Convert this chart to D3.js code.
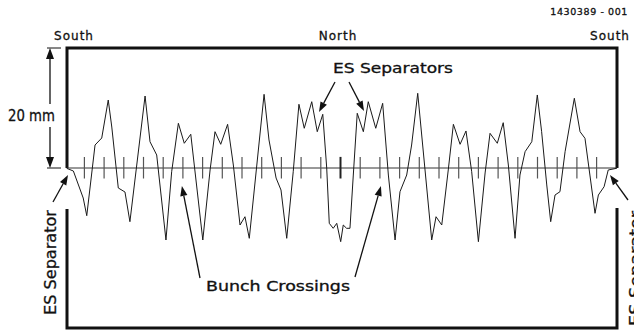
<!DOCTYPE html>
<html>
<head>
<meta charset="utf-8">
<script src="https://cdn.jsdelivr.net/npm/d3@7"></script>
<style>
  body { margin: 0; background: #fff; }
  svg { display: block; }
  text { font-family: "DejaVu Sans", sans-serif; fill: #111; stroke: #111; stroke-width: 0.3; }
</style>
</head>
<body>
<svg id="chart" width="634" height="333"></svg>
<script>
// position round the ring, in bunch-spacing units
const orbitPos = [
  0.10, 0.44, 0.94, 1.12, 1.54, 1.88, 2.21, 2.39, 2.72, 3.06,
  3.31, 4.08, 4.33, 4.67, 5.14, 5.43, 5.77, 6.07, 6.40, 7.01,
  7.38, 7.63, 7.92, 8.27, 8.56, 8.90, 9.15, 9.37, 10.12, 10.37,
  10.73, 10.98, 11.27, 11.60, 11.89, 12.16, 12.54, 12.82, 13.10, 13.30,
  13.43, 13.63, 13.81, 14.01, 14.14, 14.31, 14.48, 14.65, 14.85, 15.16,
  15.41, 15.79, 16.14, 16.43, 16.77, 17.02, 17.36, 17.61, 17.92, 18.63,
  18.85, 19.14, 19.47, 19.73, 20.07, 20.37, 20.66, 21.00, 21.34, 21.59,
  21.96, 22.26, 22.52, 22.86, 23.11, 23.37, 23.71, 23.99, 24.21, 24.47,
  24.67, 24.89, 25.14, 25.40, 25.87, 26.16, 26.41, 26.66, 26.92, 27.09,
  27.38, 27.59, 28.02
];
// beam offset, mm
const orbitOffset = [
  -0.05, -0.5, -5.0, -7.95, 3.83, 5.0, 11.33, 6.83, -3.33, -4.0,
  -8.95, 12.0, 4.38, 2.17, -12.0, -0.62, 7.45, 4.12, 5.62, -12.0,
  -0.33, 6.05, 3.95, 7.28, 0.5, -9.5, -8.12, -11.72, 12.28, 4.67,
  -1.67, -3.67, -11.72, -0.62, 10.62, 6.62, 11.05, 6.05, 8.95, 0,
  -9.22, -10.05, -9.22, -12.28, -9.5, -10.05, -10.05, -1.17, 9.12, 6.05,
  11.05, 6.62, 10.78, -1.17, -12.0, -3.95, -1.17, 3.83, 12.45, -12.0,
  -8.12, -9.5, -0.33, 7.28, 3.95, 6.17, -0.62, -12.28, -0.83, 5.78,
  4.12, 7.55, 0.5, -11.72, -1.17, 2.72, 4.38, 12.17, 6.05, -2.83,
  -8.95, -4.5, -3.95, 2.72, 11.62, 6.05, 4.95, -1.17, -7.55, -4.5,
  -3.12, -0.33, -0.05
];
// bunch crossing points
const crossings = [1, 2, 3, 4, 5, 6, 7, 8, 9, 10, 11, 12, 13, 14,
  15, 16, 17, 18, 19, 20, 21, 22, 23, 24, 25, 26, 27];
const sideLabels = ["South", "North", "South"];

const svg = d3.select("#chart");
const x = d3.scaleLinear().domain([0, 28]).range([64.7, 616.3]);
const y = d3.scaleLinear().domain([0, 20]).range([168, 48]);

const ink = "#111";

function arrow(x1, y1, x2, y2, len = 10, half = 3.6) {
  const a = Math.atan2(y2 - y1, x2 - x1);
  const bx = x2 - len * Math.cos(a), by = y2 - len * Math.sin(a);
  svg.append("line")
    .attr("x1", x1).attr("y1", y1).attr("x2", bx).attr("y2", by)
    .attr("stroke", ink).attr("stroke-width", 1.3);
  svg.append("path")
    .attr("d", `M${x2},${y2}L${bx + half * Math.sin(a)},${by - half * Math.cos(a)}L${bx - half * Math.sin(a)},${by + half * Math.cos(a)}Z`)
    .attr("fill", ink);
}

// frames
const left = 67, right = 617;
svg.append("path")
  .attr("d", `M${left},${y(0)}V${y(20)}H${right}V${y(0)}`)
  .attr("fill", "none").attr("stroke", ink).attr("stroke-width", 3);
svg.append("path")
  .attr("d", `M${left},209V328H${right}V208`)
  .attr("fill", "none").attr("stroke", ink).attr("stroke-width", 3);

// reference axis
svg.append("line")
  .attr("x1", left).attr("x2", right)
  .attr("y1", y(0)).attr("y2", y(0))
  .attr("stroke", "#333").attr("stroke-width", 1);

// bunch crossing marks
svg.append("g").selectAll("line")
  .data(crossings)
  .join("line")
  .attr("x1", d => x(d)).attr("x2", d => x(d))
  .attr("y1", y(1.85)).attr("y2", y(-1.75))
  .attr("stroke", d => d === 14 ? "#222" : "#555")
  .attr("stroke-width", d => d === 14 ? 2 : 1.2);

// orbit
const pts = d3.zip(orbitPos, orbitOffset);
svg.append("path")
  .datum(pts)
  .attr("d", d3.line().x(d => x(d[0])).y(d => y(d[1])))
  .attr("fill", "none")
  .attr("stroke", "#1a1a1a")
  .attr("stroke-width", 1)
  .attr("stroke-linejoin", "miter");

// side labels
svg.selectAll("text.side")
  .data(sideLabels)
  .join("text")
  .attr("class", "side")
  .attr("x", (d, i) => [74, 338, 610][i])
  .attr("y", 40)
  .attr("text-anchor", "middle")
  .attr("font-size", 12)
  .attr("letter-spacing", 1)
  .text(d => d);

svg.append("text")
  .attr("x", 628).attr("y", 15)
  .attr("text-anchor", "end")
  .attr("font-size", 9.5)
  .attr("letter-spacing", 0.6)
  .text("1430389 - 001");

// 20 mm dimension
svg.append("text")
  .attr("x", 8).attr("y", 121)
  .attr("font-size", 15)
  .attr("textLength", 47).attr("lengthAdjust", "spacingAndGlyphs")
  .text("20 mm");
arrow(50, 104, 50, y(20), 11, 4);
arrow(50, 127, 50, y(0), 11, 4);
[y(20), y(0)].forEach(v => {
  svg.append("line").attr("x1", 47).attr("x2", 61).attr("y1", v).attr("y2", v)
    .attr("stroke", ink).attr("stroke-width", 1);
});

// annotations
svg.append("text")
  .attr("x", 333).attr("y", 73)
  .attr("font-size", 13.5)
  .attr("textLength", 120).attr("lengthAdjust", "spacingAndGlyphs")
  .text("ES Separators");
arrow(335, 82, 319, 112);
arrow(349, 82, 364, 111);

svg.append("text")
  .attr("x", 206).attr("y", 291)
  .attr("font-size", 13.5)
  .attr("textLength", 144).attr("lengthAdjust", "spacingAndGlyphs")
  .text("Bunch Crossings");
arrow(200, 278, x(6) - 1, 186);
arrow(355, 277, x(16) + 1, 186);

svg.append("text")
  .attr("transform", "translate(56,315) rotate(-90)")
  .attr("font-size", 15)
  .attr("textLength", 105).attr("lengthAdjust", "spacingAndGlyphs")
  .text("ES Separator");
arrow(53, 202, 68, 175);

// cut by the page edge, as in the original
svg.append("text")
  .attr("transform", "translate(641,326) rotate(-90)")
  .attr("font-size", 15)
  .attr("textLength", 115).attr("lengthAdjust", "spacingAndGlyphs")
  .text("ES Separator");
arrow(628, 200, 610, 175);
</script>
</body>
</html>
